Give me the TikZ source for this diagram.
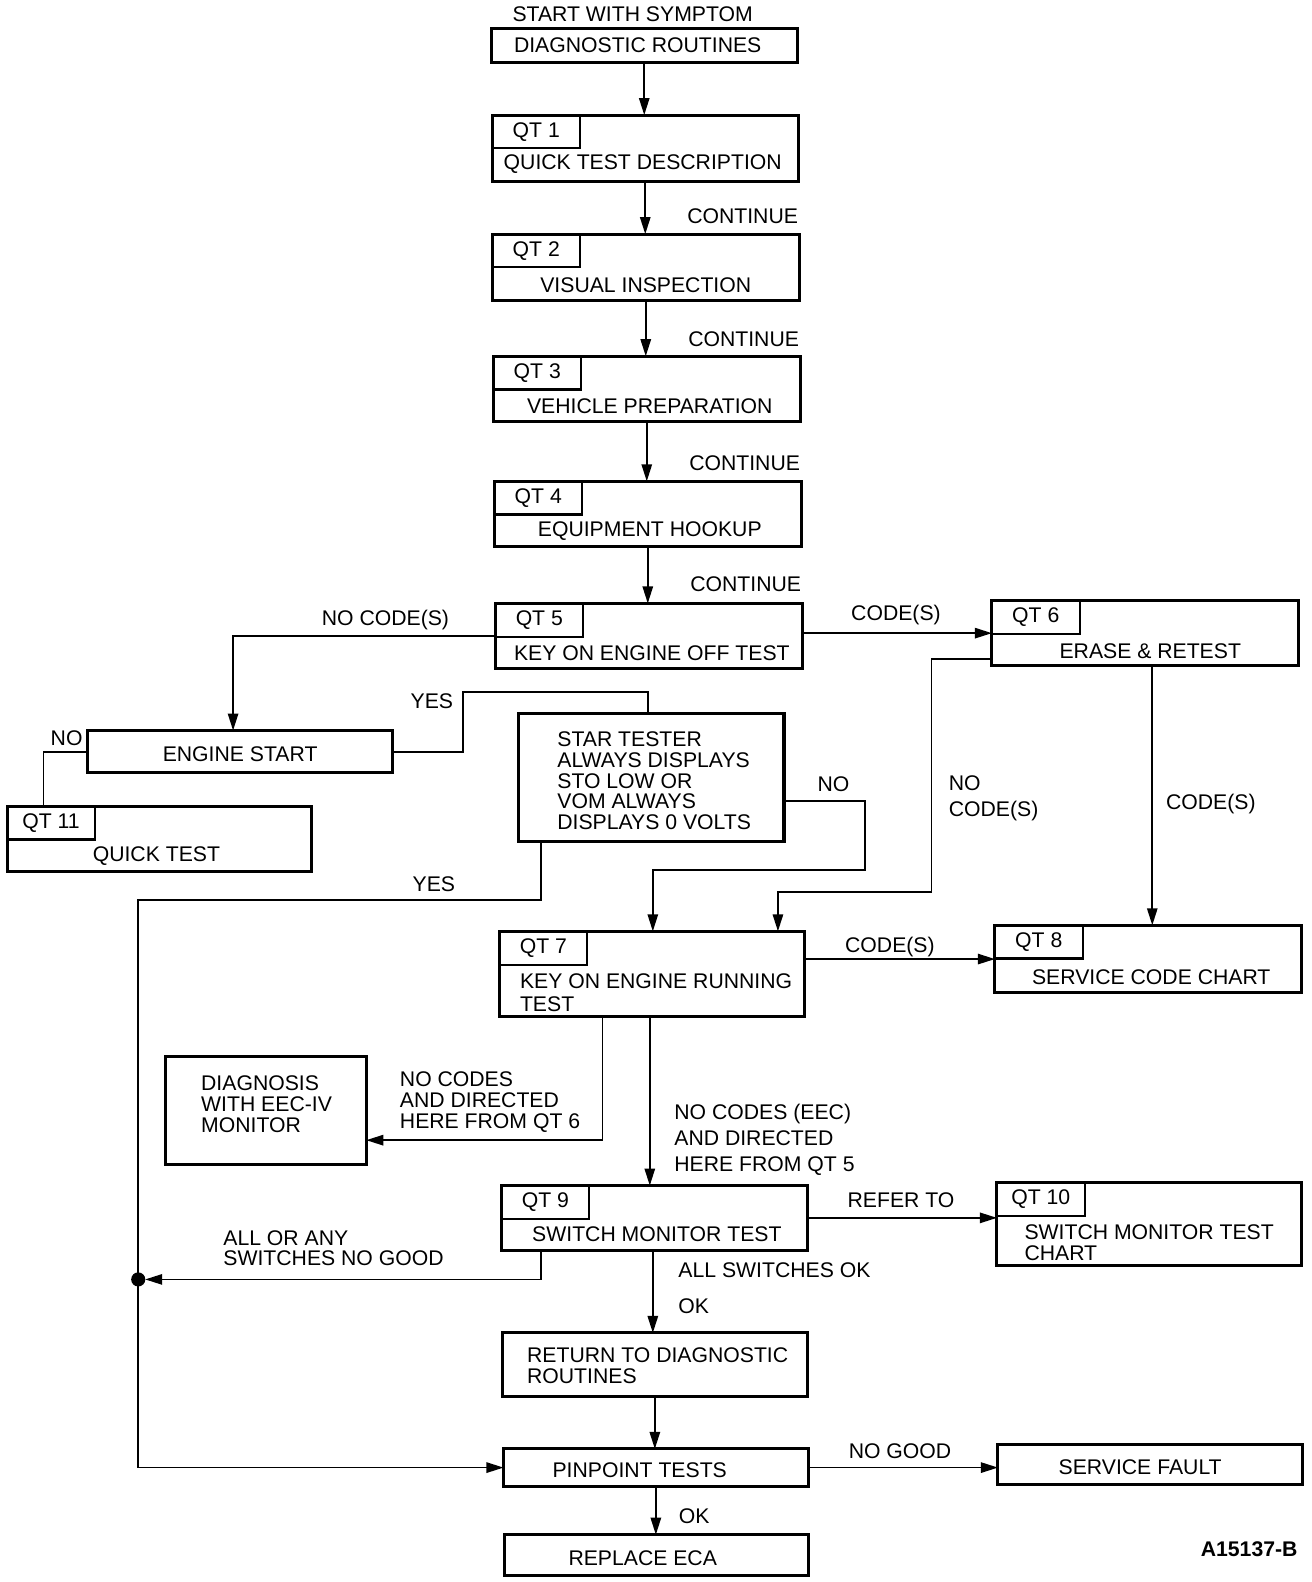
\documentclass[tikz,border=0pt]{standalone}
\usepackage{fontspec}
\setmainfont{Liberation Sans}
\usetikzlibrary{arrows.meta,calc}
\newlength\pxu
\setlength\pxu{0.5045pt}
\begin{document}
\begin{tikzpicture}[x=0.5045pt,y=-0.5045pt,
 box/.style={draw,line width=1.5pt,inner sep=0,outer sep=0,anchor=north west},
 tab/.style={draw,line width=1.1pt,inner sep=0,outer sep=0,anchor=north west,minimum width=87*\pxu,minimum height=33*\pxu,font=\fontsize{10.6}{12}\selectfont},
 txt/.style={inner sep=0,font=\fontsize{10.6}{12}\selectfont},
 mtxt/.style={inner sep=0,anchor=north west,align=left,font=\fontsize{10.6}{#1}\selectfont},
 conn/.style={line width=0.8pt},
 arr/.style={conn,-{Triangle[length=8.5pt,width=5.2pt]}}]
\fill[white] (0,0) rectangle (1300.3,1567.9);
\useasboundingbox (0,0) rectangle (1300.3,1567.9);

% boxes
\node[box,minimum width=303*\pxu,minimum height=34*\pxu] (dr) at (487,28) {};
\node[box,minimum width=303*\pxu,minimum height=66*\pxu] (qt1) at (488,114) {};
\node[tab] (t1) at (qt1.north west) {QT 1};
\node[box,minimum width=304*\pxu,minimum height=66*\pxu] (qt2) at (488,232) {};
\node[tab] (t2) at (qt2.north west) {QT 2};
\node[box,minimum width=304*\pxu,minimum height=65*\pxu] (qt3) at (489,353) {};
\node[tab] (t3) at (qt3.north west) {QT 3};
\node[box,minimum width=304*\pxu,minimum height=65*\pxu] (qt4) at (490,477) {};
\node[tab] (t4) at (qt4.north west) {QT 4};
\node[box,minimum width=304*\pxu,minimum height=65*\pxu] (qt5) at (491,598) {};
\node[tab] (t5) at (qt5.north west) {QT 5};
\node[box,minimum width=304*\pxu,minimum height=65*\pxu] (qt6) at (983,595) {};
\node[tab] (t6) at (qt6.north west) {QT 6};
\node[box,minimum width=302*\pxu,minimum height=42*\pxu] (es) at (87,724) {};
\node[box,minimum width=302*\pxu,minimum height=65*\pxu] (qt11) at (7,799) {};
\node[tab] (t11) at (qt11.north west) {QT 11};
\node[box,minimum width=263*\pxu,minimum height=127*\pxu] (star) at (514,707) {};
\node[box,minimum width=302*\pxu,minimum height=84*\pxu] (qt7) at (495,923) {};
\node[tab] (t7) at (qt7.north west) {QT 7};
\node[box,minimum width=304*\pxu,minimum height=67*\pxu] (qt8) at (986,917) {};
\node[tab] (t8) at (qt8.north west) {QT 8};
\node[box,minimum width=199*\pxu,minimum height=107*\pxu] (diag) at (164,1047) {};
\node[box,minimum width=303*\pxu,minimum height=64*\pxu] (qt9) at (497,1175) {};
\node[tab] (t9) at (qt9.north west) {QT 9};
\node[box,minimum width=302*\pxu,minimum height=82*\pxu] (qt10) at (988,1172) {};
\node[tab] (t10) at (qt10.north west) {QT 10};
\node[box,minimum width=302*\pxu,minimum height=63*\pxu] (ret) at (498,1321) {};
\node[box,minimum width=302*\pxu,minimum height=37*\pxu] (pin) at (499,1436) {};
\node[box,minimum width=302*\pxu,minimum height=39*\pxu] (sf) at (989,1432) {};
\node[box,minimum width=301*\pxu,minimum height=40*\pxu] (rep) at (500,1521) {};

% box texts
\node[txt] (sws) at (627,14) {START WITH SYMPTOM};
\node[txt] (drT) at (632,45) {DIAGNOSTIC ROUTINES};
\node[txt] (q1T) at (637,163) {QUICK TEST DESCRIPTION};
\node[txt] (q2T) at (640,283) {VISUAL INSPECTION};
\node[txt] (q3T) at (644,403) {VEHICLE PREPARATION};
\node[txt] (q4T) at (644,526) {EQUIPMENT HOOKUP};
\node[txt] (q5T) at (646,647) {KEY ON ENGINE OFF TEST};
\node[txt] (q6T) at (1140,645) {ERASE \& RETEST};
\node[txt] (esT) at (238,747) {ENGINE START};
\node[txt] (q11T) at (155,848) {QUICK TEST};
\node[mtxt=10.34pt] (starT) at (552,725) {STAR TESTER\\ALWAYS DISPLAYS\\STO LOW OR\\VOM ALWAYS\\DISPLAYS 0 VOLTS};
\node[mtxt=11.1pt] (q7T) at (515,965) {KEY ON ENGINE RUNNING\\TEST};
\node[txt] (q8T) at (1141,968) {SERVICE CODE CHART};
\node[mtxt=10.34pt] (diagT) at (199,1066) {DIAGNOSIS\\WITH EEC-IV\\MONITOR};
\node[txt] (q9T) at (651,1223) {SWITCH MONITOR TEST};
\node[mtxt=10.6pt] (q10T) at (1015,1213) {SWITCH MONITOR TEST\\CHART};
\node[mtxt=10.6pt] (retT) at (522,1335) {RETURN TO DIAGNOSTIC\\ROUTINES};
\node[txt] (pinT) at (634,1457) {PINPOINT TESTS};
\node[txt] (sfT) at (1130,1454) {SERVICE FAULT};
\node[txt] (repT) at (637,1544) {REPLACE ECA};
\node[txt,font=\fontsize{10.6}{12}\selectfont\bfseries] (fig) at (1238,1535) {A15137-B};

% connector labels
\node[txt] (c1) at (736,214) {CONTINUE};
\node[txt] (c2) at (737,336) {CONTINUE};
\node[txt] (c3) at (738,459) {CONTINUE};
\node[txt] (c4) at (739,579) {CONTINUE};
\node[txt] (l56) at (888,610) {CODE(S)};
\node[txt] (lnc) at (382,614) {NO CODE(S)};
\node[txt] (lyes1) at (428,695) {YES};
\node[txt] (lno1) at (66,732) {NO};
\node[txt] (lno2) at (826,777) {NO};
\node[mtxt=13.1pt] (lnc6) at (940,768) {NO\\CODE(S)};
\node[txt] (l68) at (1200,797) {CODE(S)};
\node[txt] (lyes2) at (430,876) {YES};
\node[txt] (l78) at (882,939) {CODE(S)};
\node[mtxt=10.34pt] (lnc7) at (396,1062) {NO CODES\\AND DIRECTED\\HERE FROM QT 6};
\node[mtxt=12.87pt] (lnc5) at (668,1094) {NO CODES (EEC)\\AND DIRECTED\\HERE FROM QT 5};
\node[txt] (lref) at (893,1189) {REFER TO};
\node[mtxt=10.1pt] (lng) at (221,1219) {ALL OR ANY\\SWITCHES NO GOOD};
\node[txt,anchor=west] (lok1) at (672,1259) {ALL SWITCHES OK};
\node[txt,anchor=west] (lok2) at (672,1295) {OK};
\node[txt] (lng2) at (892,1438) {NO GOOD};
\node[txt] (lok3) at (688,1503) {OK};

% helper coordinates
\coordinate (nA) at (857,862);
\coordinate (nB) at (923,884);
\coordinate (yA) at (137,892);
\coordinate (dot) at (137,1268);
\coordinate (c7) at ($(qt7.south west)+(149,0)$);
\coordinate (c9) at ($(qt9.south west)+(39,0)$);
\coordinate (c9b) at ($(qt9.south west)+(150,0)$);

% connectors
\draw[arr] (dr.south) -- (dr.south |- qt1.north);
\draw[arr] (qt1.south) -- (qt1.south |- qt2.north);
\draw[arr] (qt2.south) -- (qt2.south |- qt3.north);
\draw[arr] (qt3.south) -- (qt3.south |- qt4.north);
\draw[arr] (qt4.south) -- (qt4.south |- qt5.north);
\draw[arr] (qt5.east |- qt6.west) -- (qt6.west);
\draw[arr] (qt5.west) -| ($(es.north west)+(144,0)$);
\draw[conn] (es.west) -| ($(qt11.north west)+(36,0)$);
\draw[conn] (es.east) -- ($(es.east)+(70,0)$) |- ($(star.north west)+(128,-21)$) -- ($(star.north west)+(128,0)$);
\draw[arr] ($(star.north east)+(0,87)$) -| (nA) -| ($(qt7.north west)+(152,0)$);
\draw[arr] ($(star.south west)+(22,0)$) |- (yA) |- (pin.west);
\fill (dot) circle (7);
\draw[arr] ($(qt6.south west)+(0,-7)$) -| (nB) -| ($(qt7.north west)+(276,0)$);
\draw[arr] ($(qt6.south west)+(159,0)$) -- ($(qt8.north west)+(156,0)$);
\draw[arr] (qt7.east |- qt8.west) -- (qt8.west);
\draw[arr] ($(qt7.south west)+(102,0)$) |- ($(diag.north east)+(0,83)$);
\draw[arr] (c7) -- (c7 |- qt9.north);
\draw[arr] (qt9.east) -- (qt9.east -| qt10.west);
\draw[arr,shorten >=3.5pt] (c9) |- (dot);
\draw[arr] (c9b) -- (c9b |- ret.north);
\draw[arr] (ret.south) -- (ret.south |- pin.north);
\draw[arr] (pin.east) -- (pin.east -| sf.west);
\draw[arr] (pin.south) -- (pin.south |- rep.north);
\end{tikzpicture}
\end{document}
